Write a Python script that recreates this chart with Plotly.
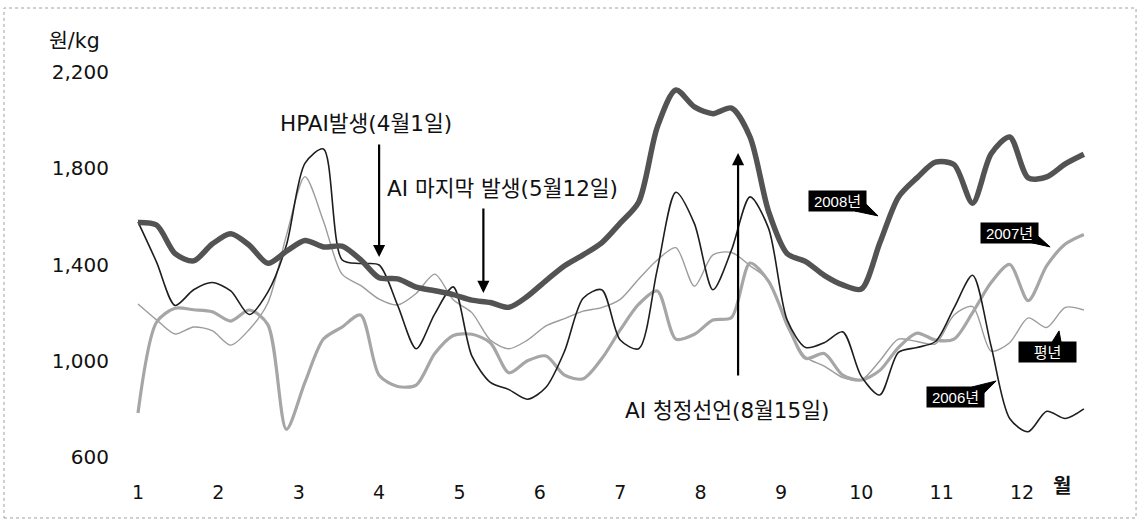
import plotly.graph_objects as go

# ---- data (weekly farm-gate prices, 원/kg) ----
weeks = list(range(1, 53))

y2008 = [1575, 1564, 1445, 1415, 1485, 1528, 1480, 1405, 1455, 1500,
         1473, 1476, 1420, 1345, 1340, 1306, 1291, 1275, 1252, 1242,
         1222, 1268, 1333, 1395, 1440, 1490, 1572, 1660, 1971, 2125,
         2055, 2027, 2050, 1930, 1620, 1445, 1412, 1355, 1315, 1298,
         1490, 1680, 1760, 1825, 1815, 1655, 1860, 1930, 1760, 1764,
         1818, 1858]

y2007 = [783, 1160, 1218, 1212, 1204, 1165, 1211, 1150, 715, 910,
         1090, 1140, 1190, 940, 893, 899, 1030, 1105, 1110, 1075,
         950, 1000, 1020, 940, 925, 1008, 1128, 1235, 1290, 1090,
         1110, 1169, 1180, 1406, 1330, 1155, 1010, 1030, 940, 920,
         960, 1055, 1115, 1086, 1090, 1200, 1325, 1400, 1250, 1395,
         1485, 1525]

y2006 = [1577, 1410, 1230, 1295, 1325, 1290, 1192, 1285, 1480, 1820,
         1880, 1420, 1404, 1398, 1230, 1050, 1195, 1307, 1020, 910,
         880, 840, 890, 1040, 1260, 1295, 1086, 1050, 1380, 1700,
         1570, 1295, 1460, 1681, 1550, 1170, 1055, 1075, 1120, 935,
         858, 1035, 1055, 1080, 1220, 1355, 1060, 760, 705, 790,
         760, 800]

y_normal = [1236, 1170, 1111, 1140, 1125, 1065, 1130, 1240, 1520, 1765,
            1580, 1360, 1313, 1256, 1232, 1280, 1360, 1253, 1200, 1086,
            1050, 1086, 1145, 1175, 1206, 1221, 1255, 1340, 1419, 1470,
            1310, 1440, 1450, 1395, 1335, 1140, 1015, 978, 930, 920,
            1000, 1090, 1080, 1070, 1190, 1225, 1040, 1075, 1178, 1138,
            1222, 1211]

months = list(range(1, 13))
month_labels = [str(m) for m in months]
y_ticks = [600, 1000, 1400, 1800, 2200]
y_tick_labels = ["600", "1,000", "1,400", "1,800", "2,200"]

WEEKS_PER_MONTH = 52 / 12


def mpos(month, day=1):
    """position of a calendar date on the weekly axis"""
    return 1 + (month - 1 + (day - 1) / 30) * WEEKS_PER_MONTH


month_tickvals = [mpos(m) for m in months]

FONT = "DejaVu Sans, Noto Sans CJK KR, sans-serif"
LABEL_FONT = "Liberation Sans, Arial, Noto Sans CJK KR, sans-serif"

fig = go.Figure()

fig.add_trace(go.Scatter(x=weeks, y=y_normal, mode="lines", name="평년",
                         line=dict(color="#9c9c9c", width=1.4, shape="spline", smoothing=0.8)))
fig.add_trace(go.Scatter(x=weeks, y=y2007, mode="lines", name="2007년",
                         line=dict(color="#a6a6a6", width=3.2, shape="spline", smoothing=0.8)))
fig.add_trace(go.Scatter(x=weeks, y=y2006, mode="lines", name="2006년",
                         line=dict(color="#1e1e1e", width=1.6, shape="spline", smoothing=0.8)))
fig.add_trace(go.Scatter(x=weeks, y=y2008, mode="lines", name="2008년",
                         line=dict(color="#535353", width=5.5, shape="spline", smoothing=0.8)))

annotations = []

# event arrows
events = [
    # (tip x, tip y, tail y, text, text x, text y)
    (mpos(4, 1), 1431, 1905, "HPAI발생(4월1일)", 8.55, 1984),
    (mpos(5, 12) - 0.3, 1282, 1639, "AI 마지막 발생(5월12일)", 14.32, 1714),
    (mpos(8, 15), 1863, 932, "AI 청정선언(8월15일)", 27.15, 795),
]
for xt, ytip, ytail, txt, tx, ty in events:
    annotations.append(dict(x=xt, y=ytip, ax=xt, ay=ytail, xref="x", yref="y",
                            axref="x", ayref="y", text="", showarrow=True,
                            arrowhead=2, arrowsize=1.1, arrowwidth=2.2,
                            arrowcolor="#000000"))
    annotations.append(dict(x=tx, y=ty, xref="x", yref="y", text=txt,
                            showarrow=False, xanchor="left", yanchor="middle",
                            font=dict(family=FONT, size=21.5, color="#111111")))

# callout labels (box centre, tail triangle)
callouts = [
    ("2008년", 38.72, 1664, [(39.66, 1622), (40.26, 1651), (40.90, 1602)]),
    ("2007년", 47.97, 1533, [(48.99, 1494), (49.53, 1518), (50.18, 1473)]),
    ("평년", 50.02, 1036, [(50.29, 1078), (50.77, 1078), (50.66, 1124)]),
    ("2006년", 45.06, 849, [(45.97, 891), (46.62, 866), (47.27, 916)]),
]
shapes = []
for txt, cx, cy, tail in callouts:
    annotations.append(dict(x=cx, y=cy, xref="x", yref="y", text=txt,
                            showarrow=False, xanchor="center", yanchor="middle",
                            bgcolor="#000000", width=53, height=16, borderpad=2,
                            font=dict(family=LABEL_FONT, size=15, color="#ffffff")))
    path = "M {},{} L {},{} L {},{} Z".format(tail[0][0], tail[0][1], tail[1][0],
                                               tail[1][1], tail[2][0], tail[2][1])
    shapes.append(dict(type="path", path=path, xref="x", yref="y",
                       fillcolor="#000000", line=dict(color="#000000", width=1)))

# axis titles
annotations.append(dict(x=-0.0636, y=1.0805, xref="paper", yref="paper", text="원/kg",
                        showarrow=False, xanchor="left", yanchor="middle",
                        font=dict(family=FONT, size=20.5, color="#111111")))
annotations.append(dict(x=0.9616, y=-0.0753, xref="paper", yref="paper", text="<b>월</b>",
                        showarrow=False, xanchor="center", yanchor="middle",
                        font=dict(family=FONT, size=20, color="#111111")))

# dotted frame
shapes.append(dict(type="rect", xref="paper", yref="paper", x0=-0.1071, x1=1.0364,
                   y0=-0.1584, y1=1.1662, line=dict(color="#a0a0a0", width=1, dash="dot"),
                   layer="below"))

fig.update_layout(
    width=1140, height=520,
    margin=dict(l=110, r=40, t=72, b=63),
    paper_bgcolor="white", plot_bgcolor="white",
    showlegend=False,
    annotations=annotations,
    shapes=shapes,
    xaxis=dict(range=[-0.51, 52.87], tickvals=month_tickvals, ticktext=month_labels,
               showgrid=False, zeroline=False, showline=False, ticks="",
               ticklabelstandoff=22,
               tickfont=dict(family=FONT, size=19, color="#111111")),
    yaxis=dict(range=[600, 2200], tickvals=y_ticks, ticktext=y_tick_labels,
               showgrid=False, zeroline=False, showline=False, ticks="",
               tickfont=dict(family=FONT, size=20, color="#111111")),
)

fig.write_html("out.html", config={"displayModeBar": False},
               post_script="document.body.style.margin='0px';document.body.style.overflow='hidden';")
